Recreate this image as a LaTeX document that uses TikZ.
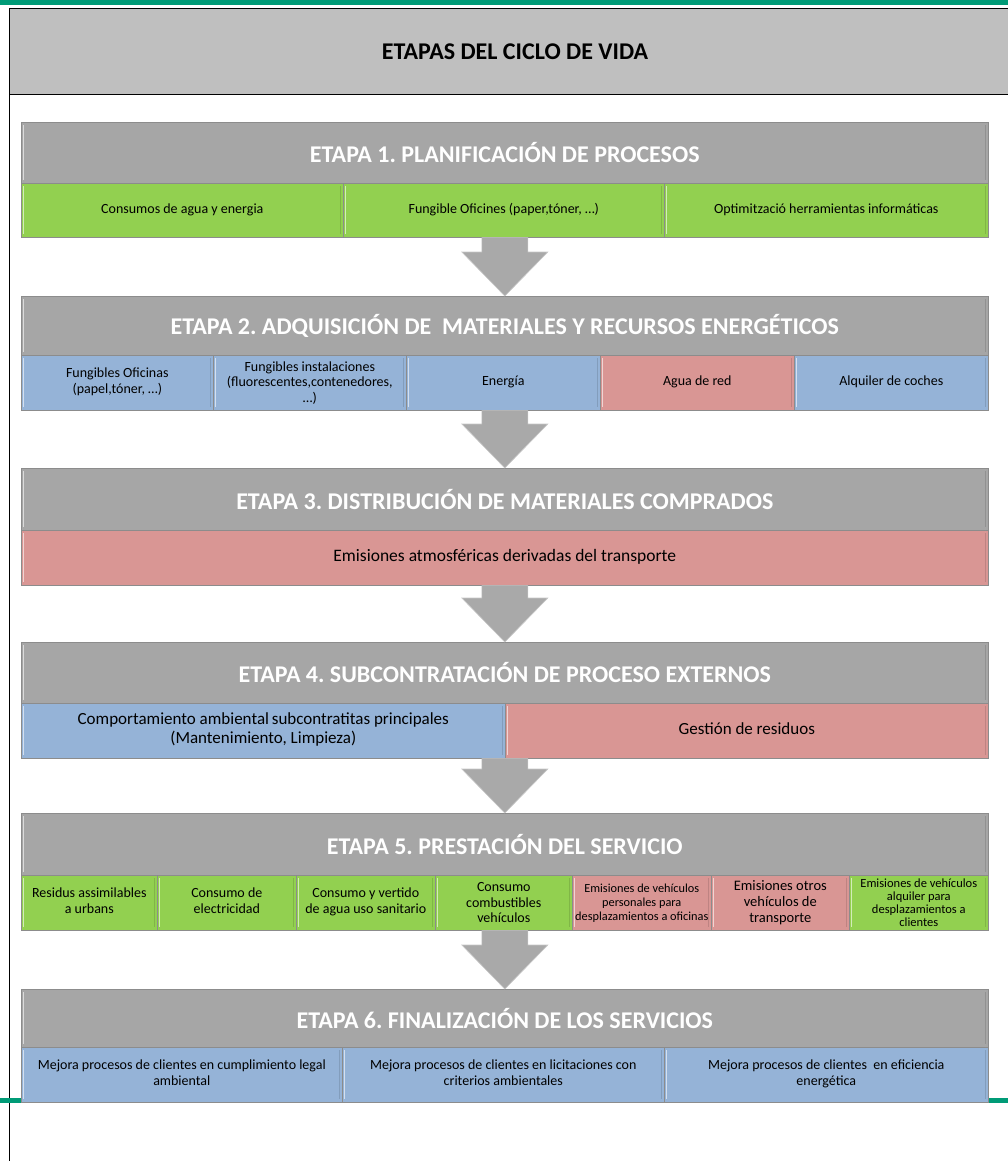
\documentclass[tikz,border=0pt]{standalone}
\usepackage{fontspec}
\setmainfont{Carlito}
\usetikzlibrary{calc}
\definecolor{tealline}{HTML}{009B77}
\definecolor{topgray}{HTML}{BFBFBF}
\definecolor{hdrgray}{HTML}{A6A6A6}
\definecolor{cgreen}{HTML}{92D050}
\definecolor{cblue}{HTML}{95B3D7}
\definecolor{cred}{HTML}{D99694}
\definecolor{arrgray}{HTML}{A9A9A9}
\tikzset{
  bevel/.style={path picture={
    \draw[white,opacity=.6,line width=1.3pt]
      ([xshift=2.5pt,yshift=-3pt]path picture bounding box.north west) --
      ([xshift=2.5pt,yshift=3pt]path picture bounding box.south west);
    \draw[black,opacity=.12,line width=1.3pt]
      ([xshift=-2.5pt,yshift=-3pt]path picture bounding box.north east) --
      ([xshift=-2.5pt,yshift=3pt]path picture bounding box.south east);}},
  hdr/.style={bevel, draw=black!45, line width=0.6pt, fill=hdrgray, anchor=north west,
    inner sep=0pt, text=white, minimum width=967pt,
    font=\fontsize{24}{28}\selectfont\bfseries\frenchspacing},
  cellbase/.style={bevel, draw=black!45, line width=0.6pt, anchor=north west, inner sep=0pt,
    align=center, minimum height=55pt, font=\fontsize{14}{15.5}\selectfont\frenchspacing},
  strutted/.style={execute at begin node=\strut, execute at end node=\strut},
  gcell0/.style={cellbase, fill=cgreen},
  bcell0/.style={cellbase, fill=cblue},
  rcell0/.style={cellbase, fill=cred},
  gcell/.style={gcell0, strutted},
  bcell/.style={bcell0, strutted},
  rcell/.style={rcell0, strutted},
  bigarrow/.style={fill=arrgray, draw=black!22, line width=0.6pt}
}
\newcommand{\blockarrow}[2]{%
  \path[bigarrow] let \p1=(#1), \p2=(#2) in
    (\x2-23pt,\y1) -- (\x2-23pt,\y2+44pt) -- (\x2-43pt,\y2+44pt) -- (\x2,\y2) --
    (\x2+43pt,\y2+44pt) -- (\x2+23pt,\y2+44pt) -- (\x2+23pt,\y1) -- cycle;}
\begin{document}
\begin{tikzpicture}[x=1pt,y=-1pt]
\useasboundingbox (0,0) rectangle (1008,1161);
% top band and header
\fill[tealline] (0,0) rectangle (1008,5);
\node[draw=black, line width=0.8pt, fill=topgray, anchor=north west, inner sep=0pt,
  minimum width=1012pt, minimum height=86pt] (top) at (9,8) {};
\node[font=\fontsize{24}{28}\selectfont\bfseries] (title) at (515,52) {ETAPAS DEL CICLO DE VIDA};
\draw[line width=0.8pt] (top.north west) -- (9,1161);
% footer line
\draw[tealline, line width=5pt] (0,1100.5) -- (1008,1100.5);

% ---------- Stage 1
\node[hdr, minimum height=61pt] (h1) at (21,122) {ETAPA 1. PLANIFICACIÓN DE PROCESOS};
\node[gcell, minimum width=322pt, minimum height=54pt] (r1a) at (21,183) {Consumos de agua y energia};
\node[gcell, minimum width=321pt, minimum height=54pt] (r1b) at (343,183) {Fungible Oficines (paper,tóner, …)};
\node[gcell, minimum width=324pt, minimum height=54pt] (r1c) at (664,183) {Optimització herramientas informáticas};

% ---------- Stage 2
\node[hdr, minimum height=59pt] (h2) at (21,296) {ETAPA 2. ADQUISICIÓN DE \ MATERIALES Y RECURSOS ENERGÉTICOS};
\node[bcell, minimum width=192pt] (r2a) at (21,355) {Fungibles Oficinas\\(papel,tóner, …)};
\node[bcell0, minimum width=193pt] (r2b) at (213,355) {Fungibles instalaciones\\(fluorescentes,contenedores,\\…)};
\node[bcell, minimum width=194pt] (r2c) at (406,355) {Energía};
\node[rcell, minimum width=194pt] (r2d) at (600,355) {Agua de red};
\node[bcell, minimum width=194pt] (r2e) at (794,355) {Alquiler de coches};

% ---------- Stage 3
\node[hdr, minimum height=62pt] (h3) at (21,468) {ETAPA 3. DISTRIBUCIÓN DE MATERIALES COMPRADOS};
\node[rcell, minimum width=967pt, font=\fontsize{17.5}{20}\selectfont] (r3a) at (21,530) {Emisiones atmosféricas derivadas del transporte};

% ---------- Stage 4
\node[hdr, minimum height=61pt] (h4) at (21,642) {ETAPA 4. SUBCONTRATACIÓN DE PROCESO EXTERNOS};
\node[bcell, minimum width=484pt, font=\fontsize{17}{19.5}\selectfont] (r4a) at (21,703) {Comportamiento ambiental\kern-1pt{} subcontratitas principales\\(Mantenimiento, Limpieza)};
\node[rcell, minimum width=483pt, font=\fontsize{17}{19.5}\selectfont] (r4b) at (505,703) {Gestión de residuos};

% ---------- Stage 5
\node[hdr, minimum height=62pt] (h5) at (21,813) {ETAPA 5. PRESTACIÓN DEL SERVICIO};
\node[gcell, minimum width=136pt] (r5a) at (21,875) {Residus assimilables\\a urbans};
\node[gcell, minimum width=139pt] (r5b) at (157,875) {Consumo de\\electricidad};
\node[gcell, minimum width=139pt] (r5c) at (296,875) {Consumo y vertido\\de agua uso sanitario};
\node[gcell0, minimum width=137pt] (r5d) at (435,875) {Consumo\\combustibles\\vehículos};
\node[rcell0, minimum width=139pt, font=\fontsize{12.3}{14}\selectfont] (r5e) at (572,875) {Emisiones de vehículos\\personales para\\desplazamientos a oficinas};
\node[rcell0, minimum width=138pt, font=\fontsize{14.5}{16}\selectfont] (r5f) at (711,875) {Emisiones otros\\vehículos de\\transporte};
\node[gcell0, minimum width=139pt, font=\fontsize{12.5}{13.2}\selectfont] (r5g) at (849,875) {Emisiones de vehículos\\alquiler para\\desplazamientos a\\clientes};

% ---------- Stage 6
\node[hdr, minimum height=58pt] (h6) at (21,989) {ETAPA 6. FINALIZACIÓN DE LOS SERVICIOS};
\node[bcell, minimum width=321pt] (r6a) at (21,1047) {Mejora procesos de clientes en cumplimiento legal\\ambiental};
\node[bcell, minimum width=322pt] (r6b) at (342,1047) {Mejora procesos de clientes en licitaciones con\\criterios ambientales};
\node[bcell, minimum width=324pt] (r6c) at (664,1047) {Mejora procesos de clientes \ en eficiencia\\energética};

% ---------- arrows between stages
\blockarrow{h1.center |- r1b.south}{h2.north}
\blockarrow{h2.center |- r2c.south}{h3.north}
\blockarrow{h3.center |- r3a.south}{h4.north}
\blockarrow{h4.center |- r4a.south}{h5.north}
\blockarrow{h5.center |- r5d.south}{h6.north}
\end{tikzpicture}
\end{document}
